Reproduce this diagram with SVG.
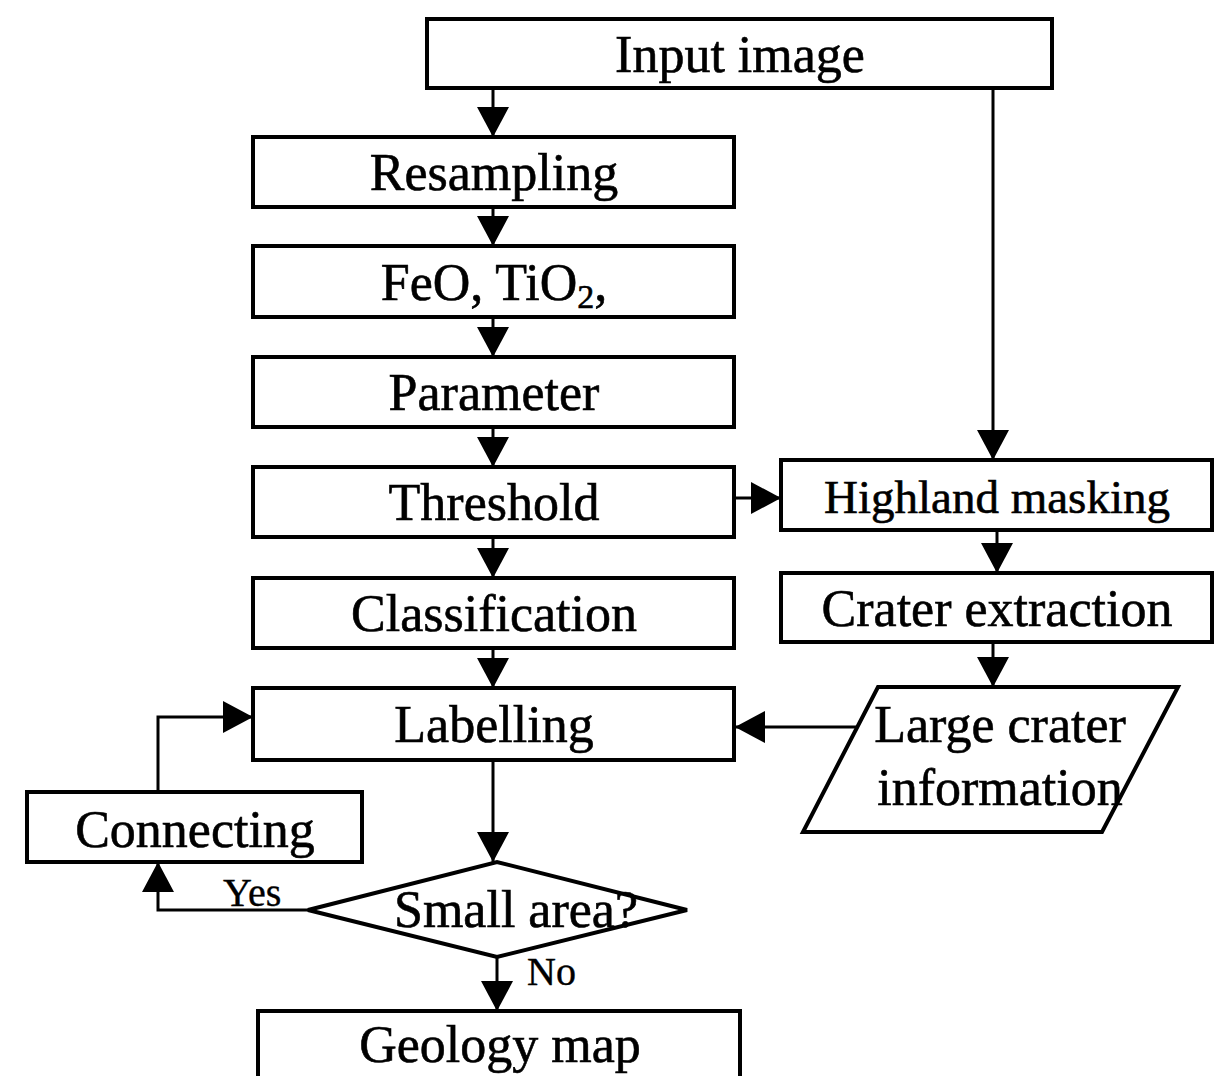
<svg xmlns="http://www.w3.org/2000/svg" width="1220" height="1076" viewBox="0 0 1220 1076">
  <style>
    .box { fill: #fff; stroke: #000; stroke-width: 4; }
    .lbl { font-family: "Liberation Serif", "Times New Roman", serif; font-size: 52px; fill: #000; stroke: #000; stroke-width: 0.6; text-anchor: middle; }
    .sm { font-family: "Liberation Serif", "Times New Roman", serif; font-size: 40px; fill: #000; stroke: #000; stroke-width: 0.4; }
    .wire { fill: none; stroke: #000; stroke-width: 3; }
  </style>
  <defs>
    <marker id="arrow" markerUnits="userSpaceOnUse" markerWidth="30" markerHeight="32" refX="30" refY="16" orient="auto">
      <path d="M0,0 L30,16 L0,32 Z" fill="#000"/>
    </marker>
  </defs>
  <rect width="1220" height="1076" fill="#fff"/>

  <g id="connectors">
    <path class="wire" d="M493,88 V137" marker-end="url(#arrow)"/>
    <path class="wire" d="M493,207 V246" marker-end="url(#arrow)"/>
    <path class="wire" d="M493,317 V357" marker-end="url(#arrow)"/>
    <path class="wire" d="M493,427 V467" marker-end="url(#arrow)"/>
    <path class="wire" d="M493,537 V578" marker-end="url(#arrow)"/>
    <path class="wire" d="M493,648 V688" marker-end="url(#arrow)"/>
    <path class="wire" d="M493,760 V862" marker-end="url(#arrow)"/>
    <path class="wire" d="M497,957 V1011" marker-end="url(#arrow)"/>
    <path class="wire" d="M993,88 V460" marker-end="url(#arrow)"/>
    <path class="wire" d="M735,498 H781" marker-end="url(#arrow)"/>
    <path class="wire" d="M997,530 V573" marker-end="url(#arrow)"/>
    <path class="wire" d="M993,642 V687" marker-end="url(#arrow)"/>
    <path class="wire" d="M857,727 H735" marker-end="url(#arrow)"/>
    <path class="wire" d="M308,910 H158 V862" marker-end="url(#arrow)"/>
    <path class="wire" d="M158,792 V717 H253" marker-end="url(#arrow)"/>
    <text class="sm" x="223" y="906">Yes</text>
    <text class="sm" x="527" y="985">No</text>
  </g>

  <g id="input-image">
    <rect class="box" x="427" y="19" width="625" height="69"/>
    <text class="lbl" x="740" y="72">Input image</text>
  </g>
  <g id="resampling">
    <rect class="box" x="253" y="137" width="481" height="70"/>
    <text class="lbl" x="494" y="190">Resampling</text>
  </g>
  <g id="feo-tio2">
    <rect class="box" x="253" y="246" width="481" height="71"/>
    <text class="lbl" x="494" y="300">FeO, TiO<tspan font-size="34" dy="8">2</tspan><tspan dy="-8">,</tspan></text>
  </g>
  <g id="parameter">
    <rect class="box" x="253" y="357" width="481" height="70"/>
    <text class="lbl" x="494" y="410">Parameter</text>
  </g>
  <g id="threshold">
    <rect class="box" x="253" y="467" width="481" height="70"/>
    <text class="lbl" x="494" y="520">Threshold</text>
  </g>
  <g id="classification">
    <rect class="box" x="253" y="578" width="481" height="70"/>
    <text class="lbl" x="494" y="631">Classification</text>
  </g>
  <g id="labelling">
    <rect class="box" x="253" y="688" width="481" height="72"/>
    <text class="lbl" x="494" y="742">Labelling</text>
  </g>
  <g id="connecting">
    <rect class="box" x="27" y="792" width="335" height="70"/>
    <text class="lbl" x="195" y="847">Connecting</text>
  </g>
  <g id="small-area">
    <polygon class="box" points="308,910 497,862 687,910 497,957"/>
    <text class="lbl" x="516" y="927">Small area?</text>
  </g>
  <g id="geology-map">
    <rect class="box" x="258" y="1011" width="482" height="80"/>
    <text class="lbl" x="500" y="1062">Geology map</text>
  </g>
  <g id="highland-masking">
    <rect class="box" x="781" y="460" width="431" height="70"/>
    <text class="lbl" x="997" y="513" style="font-size:47px">Highland masking</text>
  </g>
  <g id="crater-extraction">
    <rect class="box" x="781" y="573" width="431" height="69"/>
    <text class="lbl" x="997" y="626">Crater extraction</text>
  </g>
  <g id="large-crater-information">
    <polygon class="box" points="878,687 1178,687 1102,832 803,832"/>
    <text class="lbl" x="1000" y="742">Large crater</text>
    <text class="lbl" x="1000" y="805">information</text>
  </g>
</svg>
